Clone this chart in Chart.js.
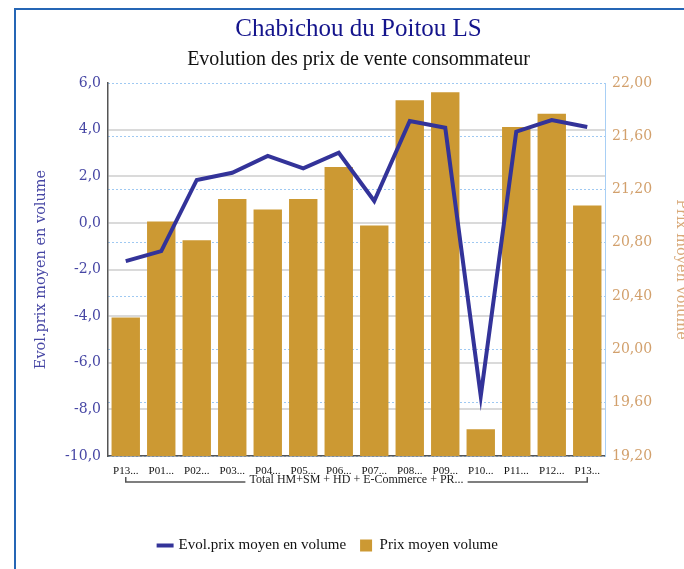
<!DOCTYPE html>
<html>
<head>
<meta charset="utf-8">
<script src="https://cdn.jsdelivr.net/npm/chart.js@4"></script>
<style>
  body { margin: 0; background: #fff; }
  #wrap { position: relative; width: 684px; height: 569px; }
  #cadre { position: absolute; left: 14px; top: 8px; right: 0; bottom: 0;
           border-left: 2px solid #2566b5; border-top: 2px solid #2566b5; pointer-events: none; }
</style>
</head>
<body>
<div id="wrap">
  <canvas id="graphique" width="684" height="569"></canvas>
  <div id="cadre"></div>
</div>
<script>
// Données
var categories = ['P13...', 'P01...', 'P02...', 'P03...', 'P04...', 'P05...', 'P06...',
                  'P07...', 'P08...', 'P09...', 'P10...', 'P11...', 'P12...', 'P13...'];
var evolPrix = [-1.64, -1.21, 1.84, 2.15, 2.87, 2.34, 3.01, 0.94, 4.37, 4.08, -7.43, 3.91, 4.41, 4.11];
var prixMoyen = [20.24, 20.96, 20.82, 21.13, 21.05, 21.13, 21.37, 20.93, 21.87, 21.93, 19.40, 21.67, 21.77, 21.08];
var groupe = 'Total HM+SM + HD + E-Commerce + PR...';

// Bornes des axes
var gaucheMin = -10, gaucheMax = 6, gauchePas = 2;
var droiteMin = 19.2, droiteMax = 22, droitePas = 0.4;

// Accolade sous l'axe des x avec le libellé du groupe
var accoladePlugin = {
    id: 'accolade',
    afterLayout: function(chart) {
        // légende un peu décalée vers la gauche comme sur l'original
        chart.legend.left -= 30;
        chart.legend.right -= 30;
    },
    afterDraw: function(chart) {
        var ctx = chart.ctx;
        var x = chart.scales.x;
        var x1 = x.getPixelForValue(0);
        var x2 = x.getPixelForValue(categories.length - 1);
        var yLigne = x.top + 26;
        var yTexte = x.top + 24;
        ctx.save();
        ctx.font = '12px "Liberation Serif"';
        ctx.fillStyle = '#222';
        ctx.textAlign = 'center';
        ctx.textBaseline = 'middle';
        var milieu = (x1 + x2) / 2;
        var larg = ctx.measureText(groupe).width;
        ctx.fillText(groupe, milieu, yTexte);
        ctx.strokeStyle = '#555';
        ctx.lineWidth = 1.5;
        ctx.beginPath();
        ctx.moveTo(x1, yLigne - 5);
        ctx.lineTo(x1, yLigne);
        ctx.lineTo(milieu - larg / 2 - 4, yLigne);
        ctx.moveTo(milieu + larg / 2 + 4, yLigne);
        ctx.lineTo(x2, yLigne);
        ctx.lineTo(x2, yLigne - 5);
        ctx.stroke();
        ctx.restore();
    }
};

var ctx = document.getElementById('graphique').getContext('2d');
var graphique = new Chart(ctx, {
    type: 'bar',
    data: {
        labels: categories,
        datasets: [{
            type: 'line',
            label: 'Evol.prix moyen en volume',
            data: evolPrix,
            yAxisID: 'y',
            borderColor: '#333399',
            backgroundColor: '#333399',
            borderWidth: 4,
            pointRadius: 0,
            pointStyle: 'line',
            tension: 0,
            order: 0
        }, {
            type: 'bar',
            label: 'Prix moyen volume',
            data: prixMoyen,
            yAxisID: 'y2',
            backgroundColor: '#cc9933',
            borderWidth: 0,
            barPercentage: 0.8,
            categoryPercentage: 1.0,
            pointStyle: 'rect',
            order: 1
        }]
    },
    plugins: [accoladePlugin],
    options: {
        responsive: false,
        animation: false,
        layout: { padding: { left: 33, right: 0, top: 0, bottom: 6 } },
        plugins: {
            title: {
                display: true,
                text: 'Chabichou du Poitou LS',
                color: '#14148c',
                font: { family: 'Liberation Serif', size: 25, weight: 'normal' },
                padding: { top: 14, bottom: 2 }
            },
            subtitle: {
                display: true,
                text: 'Evolution des prix de vente consommateur',
                color: '#111',
                font: { family: 'Liberation Serif', size: 20, weight: 'normal' },
                padding: { top: 2, bottom: 11 }
            },
            legend: {
                position: 'bottom',
                labels: {
                    usePointStyle: true,
                    boxWidth: 12,
                    boxHeight: 12,
                    color: '#111',
                    padding: 14,
                    font: { family: 'Liberation Serif', size: 15 }
                }
            },
            tooltip: { enabled: false }
        },
        scales: {
            x: {
                grid: { display: true, color: 'transparent', drawTicks: false },
                border: { display: true, color: '#555', width: 1.5 },
                ticks: {
                    color: '#111',
                    padding: 9,
                    autoSkip: false,
                    maxRotation: 0,
                    font: { family: 'Liberation Serif', size: 11 }
                },
                afterFit: function(scale) { scale.height = 68; }
            },
            y: {
                position: 'left',
                min: gaucheMin,
                max: gaucheMax,
                grid: {
                    drawTicks: false,
                    lineWidth: 2,
                    color: function(c) {
                        if (c.tick && (c.tick.value === gaucheMax || c.tick.value === gaucheMin)) return 'transparent';
                        return '#dadada';
                    }
                },
                border: { display: true, color: '#555', width: 1.5 },
                ticks: {
                    stepSize: gauchePas,
                    padding: 7,
                    color: '#4646a4',
                    font: { family: 'DejaVu Serif', size: 14 },
                    callback: function(v) { return v.toFixed(1).replace('.', ','); }
                },
                title: {
                    display: true,
                    text: 'Evol.prix moyen en volume',
                    color: '#4646a4',
                    padding: { top: 0, bottom: 0 },
                    font: { family: 'DejaVu Serif', size: 14.5 }
                },
                afterFit: function(scale) { scale.width = 75; }
            },
            y2: {
                position: 'right',
                min: droiteMin,
                max: droiteMax,
                grid: {
                    drawTicks: false,
                    lineWidth: 1,
                    color: '#9fc9f2'
                },
                border: { display: true, color: '#a8cff5', width: 1, dash: [2, 2] },
                ticks: {
                    stepSize: droitePas,
                    padding: 7,
                    color: '#d2a06c',
                    font: { family: 'DejaVu Serif', size: 14 },
                    callback: function(v) { return v.toFixed(2).replace('.', ','); }
                },
                title: {
                    display: true,
                    text: 'Prix moyen volume',
                    color: '#d8a878',
                    padding: { top: -5, bottom: 0 },
                    font: { family: 'DejaVu Serif', size: 14.5 }
                },
                afterFit: function(scale) { scale.width = 79; }
            }
        }
    }
});
</script>
</body>
</html>
